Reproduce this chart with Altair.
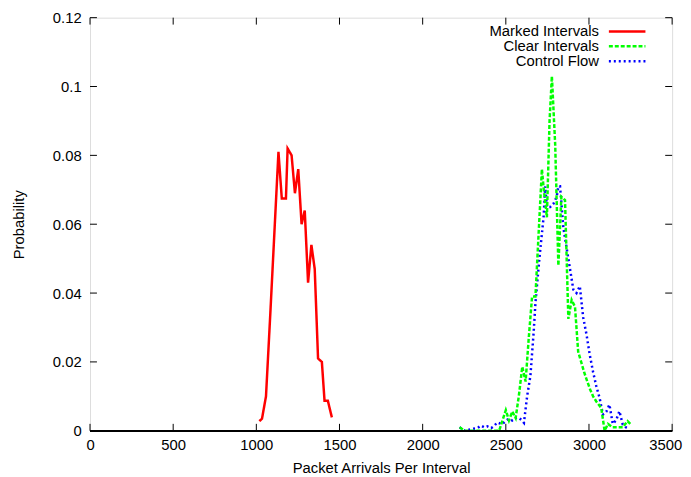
import altair as alt
import pandas as pd

# ---- data ----
red_x = [1018, 1034, 1058, 1084, 1109, 1133, 1153, 1178, 1188, 1212, 1232, 1252,
         1272, 1291, 1311, 1331, 1351, 1371, 1394, 1410, 1430, 1454]
red_y = [0.0028, 0.0035, 0.010, 0.034, 0.058, 0.081, 0.0675, 0.0675, 0.082, 0.080,
         0.069, 0.076, 0.060, 0.064, 0.043, 0.054, 0.047, 0.021, 0.020, 0.0087,
         0.0087, 0.0039]

green_x = [2222, 2252, 2311, 2371, 2430, 2460, 2500, 2519, 2539, 2559, 2578, 2599,
           2619, 2638, 2658, 2678, 2698, 2717, 2727, 2747, 2763, 2777, 2797, 2816,
           2834, 2856, 2876, 2896, 2916, 2935, 2953, 2971, 2985, 3007, 3025, 3044,
           3074, 3094, 3114, 3143, 3173, 3203, 3232, 3252]
green_y = [0.001, 0.0, 0.0, 0.0, 0.0, 0.0, 0.006, 0.003, 0.0056, 0.0037, 0.010,
           0.0186, 0.0143, 0.027, 0.039, 0.039, 0.058, 0.076, 0.0707, 0.062, 0.090,
           0.103, 0.083, 0.048, 0.068, 0.067, 0.0325, 0.038, 0.036, 0.023, 0.020,
           0.017, 0.015, 0.012, 0.010, 0.0085, 0.0066, 0.0, 0.002, 0.001, 0.001,
           0.001, 0.0028, 0.0018]

blue_x = [2222, 2252, 2294, 2329, 2351, 2371, 2389, 2412, 2430, 2448, 2478, 2502,
          2519, 2539, 2559, 2578, 2597, 2609, 2628, 2648, 2668, 2678, 2698, 2707,
          2727, 2737, 2747, 2767, 2787, 2806, 2816, 2826, 2846, 2866, 2886, 2906,
          2925, 2945, 2965, 2985, 3005, 3025, 3044, 3064, 3084, 3104, 3123, 3143,
          3163, 3183, 3203, 3222, 3242]
blue_y = [0.001, 0.0, 0.0005, 0.0008, 0.0015, 0.001, 0.0013, 0.0008, 0.0014,
          0.0024, 0.0019, 0.003, 0.0035, 0.003, 0.0037, 0.0038, 0.003, 0.0023,
          0.010, 0.016, 0.029, 0.037, 0.048, 0.0525, 0.062, 0.071, 0.065, 0.065,
          0.066, 0.068, 0.071, 0.071, 0.059, 0.053, 0.047, 0.041, 0.040, 0.042,
          0.033, 0.028, 0.022, 0.017, 0.013, 0.0095, 0.0047, 0.0055, 0.0076,
          0.002, 0.003, 0.0057, 0.0018, 0.001, 0.0005]

x_ticks = [0, 500, 1000, 1500, 2000, 2500, 3000, 3500]
y_ticks = [0, 0.02, 0.04, 0.06, 0.08, 0.1, 0.12]

series_names = ["Marked Intervals", "Clear Intervals", "Control Flow"]
series_colors = ["#ff0000", "#00ff00", "#0000ff"]
series_dash = [[1, 0], [4, 2], [2, 3]]

W, H = 589, 418
FONT = "Liberation Sans"

xscale = alt.Scale(domain=[0, 3500], nice=False, zero=False)
yscale = alt.Scale(domain=[0, 0.12], nice=False, zero=False)

def series_df(xs, ys):
    return pd.DataFrame({"x": xs, "y": ys})

def line(df, color, dash):
    return alt.Chart(df).mark_line(color=color, strokeWidth=2.5, strokeDash=dash,
                                   strokeCap="butt", strokeJoin="miter", clip=True).encode(
        x=alt.X("x:Q", scale=xscale, title="Packet Arrivals Per Interval",
                axis=alt.Axis(values=x_ticks, format="d", ticks=False, domain=False,
                              grid=False, labelFlush=False, labelOverlap=False,
                              labelOffset=alt.condition("datum.value == 3500",
                                                        alt.value(-7), alt.value(0)),
                              labelFontSize=15, labelFont=FONT, labelColor="black",
                              labelPadding=7, titleFont=FONT, titleFontSize=15,
                              titleFontWeight="normal", titleColor="black",
                              titlePadding=8)),
        y=alt.Y("y:Q", scale=yscale, title="Probability",
                axis=alt.Axis(values=y_ticks, format="~g", ticks=False, domain=False,
                              grid=False, labelFlush=False, labelOverlap=False,
                              labelFontSize=15, labelFont=FONT, labelColor="black",
                              labelPadding=9, titleFont=FONT, titleFontSize=15,
                              titleFontWeight="normal", titleColor="black",
                              titlePadding=26)),
    )

red = line(series_df(red_x, red_y), series_colors[0], series_dash[0])
blue = line(series_df(blue_x, blue_y), series_colors[2], series_dash[2])
green = line(series_df(green_x, green_y), series_colors[1], series_dash[1])

xt = pd.DataFrame({"x": x_ticks})
yt = pd.DataFrame({"y": y_ticks})
TL = 7
tick_bottom = alt.Chart(xt).mark_rule(color="black", strokeWidth=1).encode(
    x=alt.X("x:Q", scale=xscale), y=alt.value(H), y2=alt.value(H - TL))
tick_top = alt.Chart(xt).mark_rule(color="black", strokeWidth=1).encode(
    x=alt.X("x:Q", scale=xscale), y=alt.value(0), y2=alt.value(TL))
tick_left = alt.Chart(yt).mark_rule(color="black", strokeWidth=1).encode(
    y=alt.Y("y:Q", scale=yscale), x=alt.value(0), x2=alt.value(TL))
tick_right = alt.Chart(yt).mark_rule(color="black", strokeWidth=1).encode(
    y=alt.Y("y:Q", scale=yscale), x=alt.value(W), x2=alt.value(W - TL))
base_line = alt.Chart(xt).mark_rule(color="black", strokeWidth=1.5).encode(
    x=alt.value(0), x2=alt.value(W), y=alt.value(H))

legend_layers = []
row_y = [14, 29, 44]
for name, col, dash, ry in zip(series_names, series_colors, series_dash, row_y):
    ldf = pd.DataFrame({"label": [name]})
    legend_layers.append(
        alt.Chart(ldf).mark_text(align="right", baseline="middle", font=FONT,
                                 fontSize=15, color="black").encode(
            text="label:N", x=alt.value(515), y=alt.value(ry)))
    legend_layers.append(
        alt.Chart(ldf).mark_rule(color=col, strokeWidth=2.5, strokeDash=dash,
                                 strokeCap="butt").encode(
            x=alt.value(525), x2=alt.value(562), y=alt.value(ry)))

chart = alt.layer(red, blue, green, tick_bottom, tick_top, tick_left, tick_right,
                  base_line, *legend_layers).properties(
    width=W, height=H,
    autosize=alt.AutoSizeParams(type="none"),
    padding={"left": 83, "top": 7, "right": 11, "bottom": 44},
).configure_view(stroke="black", strokeWidth=1).configure(background="white")

chart.save("out.html", embed_options={"renderer": "svg", "actions": False})
